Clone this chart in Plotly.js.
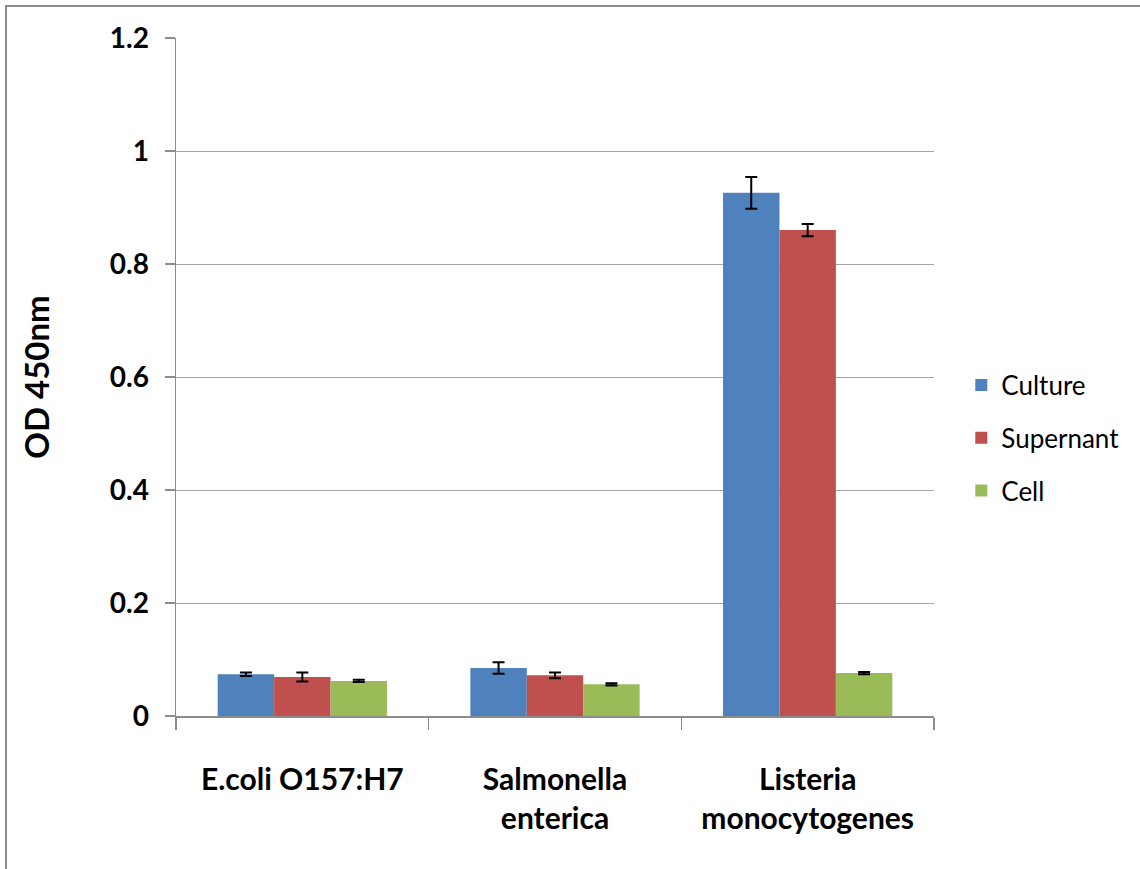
<!DOCTYPE html>
<html>
<head>
<meta charset="utf-8">
<script src="https://cdn.plot.ly/plotly-3.0.1.min.js"></script>
<style>
  html, body { margin: 0; padding: 0; background: #fff; }
  #wrap { position: relative; width: 1140px; height: 869px; }
  #chart { position: absolute; left: 0; top: 0; width: 1140px; height: 869px; }
  #frame { position: absolute; left: 5px; top: 5px; width: 1135px; height: 864px;
           border-top: 2px solid #8a8a8a; border-left: 2px solid #8a8a8a; pointer-events: none; }
</style>
</head>
<body>
<div id="wrap">
  <div id="chart"></div>
  <div id="frame"></div>
</div>
<script>
const categories = ["E.coli O157:H7", "Salmonella<br>enterica", "Listeria<br>monocytogenes"];
const seriesNames = ["Culture", "Supernant", "Cell"];
const culture = [0.074, 0.085, 0.926];
const cultureErr = [0.003, 0.010, 0.028];
const supernant = [0.069, 0.072, 0.860];
const supernantErr = [0.008, 0.005, 0.011];
const cell = [0.062, 0.056, 0.076];
const cellErr = [0.002, 0.002, 0.002];
const colors = ["#4F81BD", "#C0504D", "#9BBB59"];

const values = [culture, supernant, cell];
const errs = [cultureErr, supernantErr, cellErr];

const FONT = "Lato, 'Open Sans', 'Liberation Sans', sans-serif";

const traces = seriesNames.map((name, i) => ({
  type: "bar",
  name: name,
  x: categories,
  y: values[i],
  legendgroup: name,
  marker: { color: colors[i] },
  error_y: { type: "data", array: errs[i], visible: true, color: "#000", thickness: 2, width: 6 }
}));

const layout = {
  width: 1140,
  height: 869,
  margin: { l: 176, r: 206, t: 38, b: 153 },
  paper_bgcolor: "#fff",
  plot_bgcolor: "#fff",
  barmode: "group",
  bargap: 0.33,
  bargroupgap: 0,
  font: { family: FONT, color: "#000" },
  showlegend: true,
  legend: {
    x: 1.036, y: 0.41, xanchor: "left", yanchor: "middle",
    font: { family: FONT, size: 26, color: "#000" },
    tracegroupgap: 16,
    itemwidth: 30
  },
  xaxis: {
    type: "category",
    tickson: "boundaries",
    ticks: "outside",
    ticklen: 12,
    tickcolor: "#8c8c8c",
    tickwidth: 1.5,
    showline: true,
    linecolor: "#8c8c8c",
    linewidth: 1.5,
    showgrid: false,
    tickfont: { family: FONT, size: 30, color: "#000", weight: "bold" },
    ticklabelstandoff: 36
  },
  yaxis: {
    range: [0, 1.2],
    tickvals: [0, 0.2, 0.4, 0.6, 0.8, 1, 1.2],
    ticktext: ["0", "0.2", "0.4", "0.6", "0.8", "1", "1.2"],
    ticks: "outside",
    ticklen: 10,
    tickcolor: "#8c8c8c",
    tickwidth: 1.5,
    showline: true,
    linecolor: "#8c8c8c",
    linewidth: 1.5,
    showgrid: true,
    gridcolor: "#a6a6a6",
    gridwidth: 1,
    zeroline: false,
    tickfont: { family: FONT, size: 28, color: "#000", weight: "bold" },
    ticklabelstandoff: 10,
    title: { text: "OD 450nm", font: { family: FONT, size: 33, color: "#000", weight: "bold" }, standoff: 50 }
  }
};

Plotly.newPlot("chart", traces, layout, { displayModeBar: false, staticPlot: true });
</script>
</body>
</html>
